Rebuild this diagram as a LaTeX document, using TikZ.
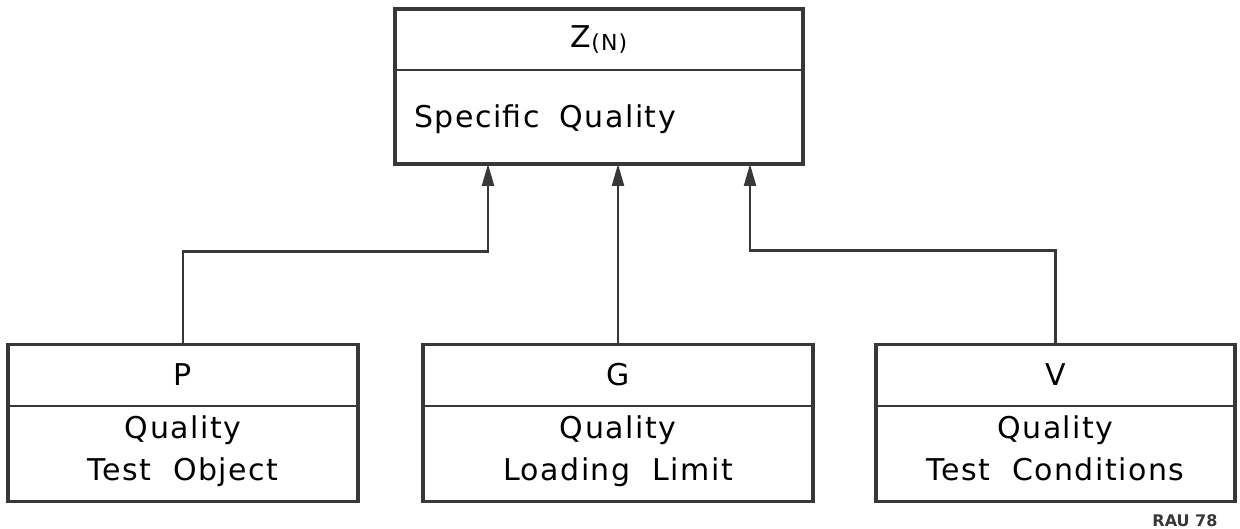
\documentclass[tikz,border=0pt]{standalone}
\usepackage{fontspec}
\setmainfont{DejaVu Sans}[LetterSpace=5]
\usetikzlibrary{positioning,arrows.meta}

\definecolor{ink}{gray}{0.22}

\tikzset{
  head/.style={draw=ink, line width=2pt, minimum height=61pt, inner sep=0pt,
    outer sep=0pt, font=\fontsize{30}{40}\selectfont},
  body/.style={draw=ink, line width=2pt, minimum height=96pt, inner sep=0pt,
    outer sep=0pt, align=center, font=\fontsize{30}{42}\selectfont,
    execute at begin node={\rule{0pt}{32pt}},
    execute at end node={\rule[-10pt]{0pt}{10pt}}},
  frame/.style={draw=ink, line width=3.4pt},
  link/.style={draw=ink, line width=2.3pt, -{Triangle[length=22pt,width=12pt]}},
}

\begin{document}
\begin{tikzpicture}[x=1pt, y=-1pt]
\useasboundingbox (0,0) rectangle (1240,529);

% upper box
\node [head, minimum width=408pt] (head-Z) at (599,39.5)
  {Z\raisebox{-3pt}{\fontsize{22}{22}\selectfont(N)}};
\node [body, minimum width=408pt, minimum height=94pt, inner xsep=19pt,
  text width=370pt, align=left, below=0pt of head-Z] (body-Z) {Specific\ \ Quality};
\draw [frame] (head-Z.north west) rectangle (body-Z.south east);

% lower boxes
\foreach \n/\cx/\w/\t in {P/183/350/{Quality\\Test\ \ Object},
    G/618/390/{Quality\\Loading\ \ Limit},
    V/1055.5/359/{Quality\\Test\ \ Conditions}} {
  \node [head, minimum width=\w pt] (head-\n) at (\cx,375) {\n};
  \node [body, minimum width=\w pt, below=0pt of head-\n] (body-\n) {\t};
  \draw [frame] (head-\n.north west) rectangle (body-\n.south east);
}

% arrows into the upper box
\coordinate (in-P) at ([xshift=-111pt]body-Z.south);
\coordinate (in-G) at (head-G.north |- body-Z.south);
\coordinate (in-V) at ([xshift=151pt]body-Z.south);

\draw [link] (head-P.north) -- ++(0,-93) -| (in-P);
\draw [link] (head-G.north) -- (in-G);
\draw [link] (head-V.north) -- ++(0,-94) -| (in-V);

\node [font=\addfontfeature{LetterSpace=0}\bfseries\fontsize{16}{16}\selectfont,
  anchor=base east, text=ink] (tag) at (1221,526) {RAU 78};
\end{tikzpicture}
\end{document}
